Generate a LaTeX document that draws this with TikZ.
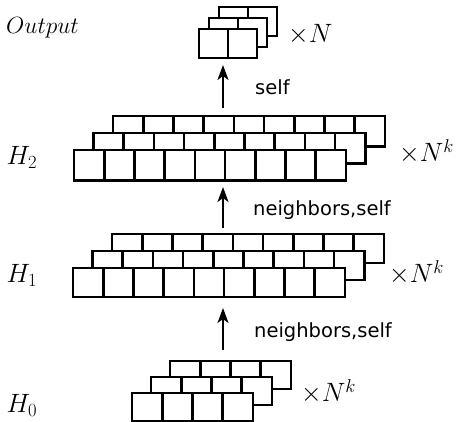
\RequirePackage{fix-cm}
\documentclass[tikz,border=0pt]{standalone}
\usepackage{fontspec}
\newfontfamily\dejavu{DejaVu Sans}
\usetikzlibrary{arrows.meta}
\tikzset{
  rowbox/.style={draw, fill=white, line width=2.6pt, rectangle, inner sep=0pt, outer sep=0pt, anchor=north west},
  cellline/.style={line width=2.6pt},
  flow/.style={line width=2.3pt, -{Stealth[length=15pt,width=11pt,inset=4pt]}},
  mathlbl/.style={inner sep=0pt, anchor=base west, font=\fontsize{26.5}{30}\selectfont},
  edgelbl/.style={inner sep=0pt, anchor=base west, font=\fontsize{19.5}{23}\dejavu},
}
% name, x, y (top), cells, cell width, height
\newcommand\cellrow[6]{%
  \node[rowbox, minimum width={(#4)*(#5)*1pt}, minimum height={(#6)*1pt}] (#1) at ({#2},{#3}) {};
  \pgfmathtruncatemacro\ncut{#4-1}%
  \foreach \i in {1,...,\ncut}{%
    \draw[cellline] ([xshift={\i*(#5)*1pt}]#1.north west) -- ([xshift={\i*(#5)*1pt}]#1.south west);
  }%
}
% name, x, y, cells, w, h, dx, dy
\newcommand\cellstack[8]{%
  \cellrow{#1b}{#2+2*(#7)}{#3+2*(#8)}{#4}{#5}{#6}%
  \cellrow{#1m}{#2+#7}{#3+#8}{#4}{#5}{#6}%
  \cellrow{#1f}{#2}{#3}{#4}{#5}{#6}%
}
\begin{document}
\begin{tikzpicture}[x=1pt,y=-1pt]
\useasboundingbox (0,0) rectangle (459,422);

\cellstack{out}{199}{29}{2}{29}{29}{10}{-11}
\cellstack{htwo}{74}{150}{9}{30.2}{30.5}{19.5}{-17}
\cellstack{hone}{73}{268}{9}{30.2}{29}{19.5}{-17}
\cellstack{hzero}{132}{393}{4}{30.2}{28}{19}{-16}

\node[mathlbl, font=\fontsize{23.5}{27}\selectfont] (lout) at (6,34) {$Output$};
\node[mathlbl] (ltwo) at (6.5,165) {$H_2$};
\node[mathlbl] (lone) at (6.5,283) {$H_1$};
\node[mathlbl] (lzero) at (6.5,413) {$H_0$};

\node[mathlbl] (nout) at (288,43) {$\times N$};
\node[mathlbl] (ntwo) at (399,162) {$\times N^k$};
\node[mathlbl] (none) at (389,283) {$\times N^k$};
\node[mathlbl] (nzero) at (301,402) {$\times N^k$};

\coordinate (a3s) at (223,108);
\coordinate (a3e) at (223,65);
\coordinate (a2s) at (223,228);
\coordinate (a2e) at (223,187);
\coordinate (a1s) at (223,350);
\coordinate (a1e) at (223,308);

\draw[flow] (a3s) -- (a3e);
\draw[flow] (a2s) -- (a2e);
\draw[flow] (a1s) -- (a1e);

\node[edgelbl] (tself) at (255,95) {self};
\node[edgelbl] (ttwo) at (253,216) {neighbors,self};
\node[edgelbl] (tone) at (254,338) {neighbors,self};
\end{tikzpicture}
\end{document}
